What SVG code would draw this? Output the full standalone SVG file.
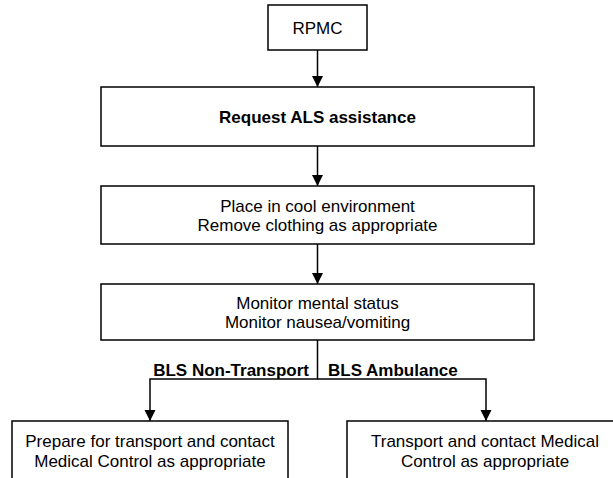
<svg xmlns="http://www.w3.org/2000/svg" width="613" height="478" viewBox="0 0 613 478">
<style>
.box{fill:#fff;stroke:#000;stroke-width:1.5}
.t{font-family:"Liberation Sans",Arial,sans-serif;font-size:17px;fill:#000;text-anchor:middle}
.b{font-weight:bold}
.c{fill:none;stroke:#000;stroke-width:1.5}
</style>
<defs>
<marker id="ah" markerUnits="userSpaceOnUse" markerWidth="12" markerHeight="12" viewBox="0 0 12 12" refX="11" refY="6" orient="auto">
<path d="M0,0.5 L11,6 L0,11.5 Z" fill="#000"/>
</marker>
</defs>
<rect width="613" height="478" fill="#fff"/>
<g id="connectors">
<line class="c" x1="317.5" y1="50" x2="317.5" y2="87" marker-end="url(#ah)"/>
<line class="c" x1="317.5" y1="146" x2="317.5" y2="186" marker-end="url(#ah)"/>
<line class="c" x1="317.5" y1="244" x2="317.5" y2="284" marker-end="url(#ah)"/>
<polyline class="c" points="317.5,340 317.5,379 150,379 150,421" marker-end="url(#ah)"/>
<polyline class="c" points="317.5,379 486,379 486,421" marker-end="url(#ah)"/>
<text class="t b" x="309" y="376" style="text-anchor:end">BLS Non-Transport</text>
<text class="t b" x="328" y="376" style="text-anchor:start">BLS Ambulance</text>
</g>
<g id="rpmc">
<rect class="box" x="268" y="5" width="99" height="45"/>
<text class="t" x="317.5" y="34">RPMC</text>
</g>
<g id="request">
<rect class="box" x="101" y="87" width="433" height="59"/>
<text class="t b" x="317.5" y="123">Request ALS assistance</text>
</g>
<g id="cool">
<rect class="box" x="101" y="186" width="433" height="58"/>
<text class="t" x="317.5" y="212">Place in cool environment</text>
<text class="t" x="317.5" y="231">Remove clothing as appropriate</text>
</g>
<g id="monitor">
<rect class="box" x="101" y="284" width="433" height="56"/>
<text class="t" x="317.5" y="309">Monitor mental status</text>
<text class="t" x="317.5" y="328">Monitor nausea/vomiting</text>
</g>
<g id="prepare">
<rect class="box" x="12" y="421" width="276" height="70"/>
<text class="t" x="150" y="447">Prepare for transport and contact</text>
<text class="t" x="150" y="467">Medical Control as appropriate</text>
</g>
<g id="transport">
<rect class="box" x="347" y="421" width="277" height="70"/>
<text class="t" x="485" y="447">Transport and contact Medical</text>
<text class="t" x="485" y="467">Control as appropriate</text>
</g>
</svg>
